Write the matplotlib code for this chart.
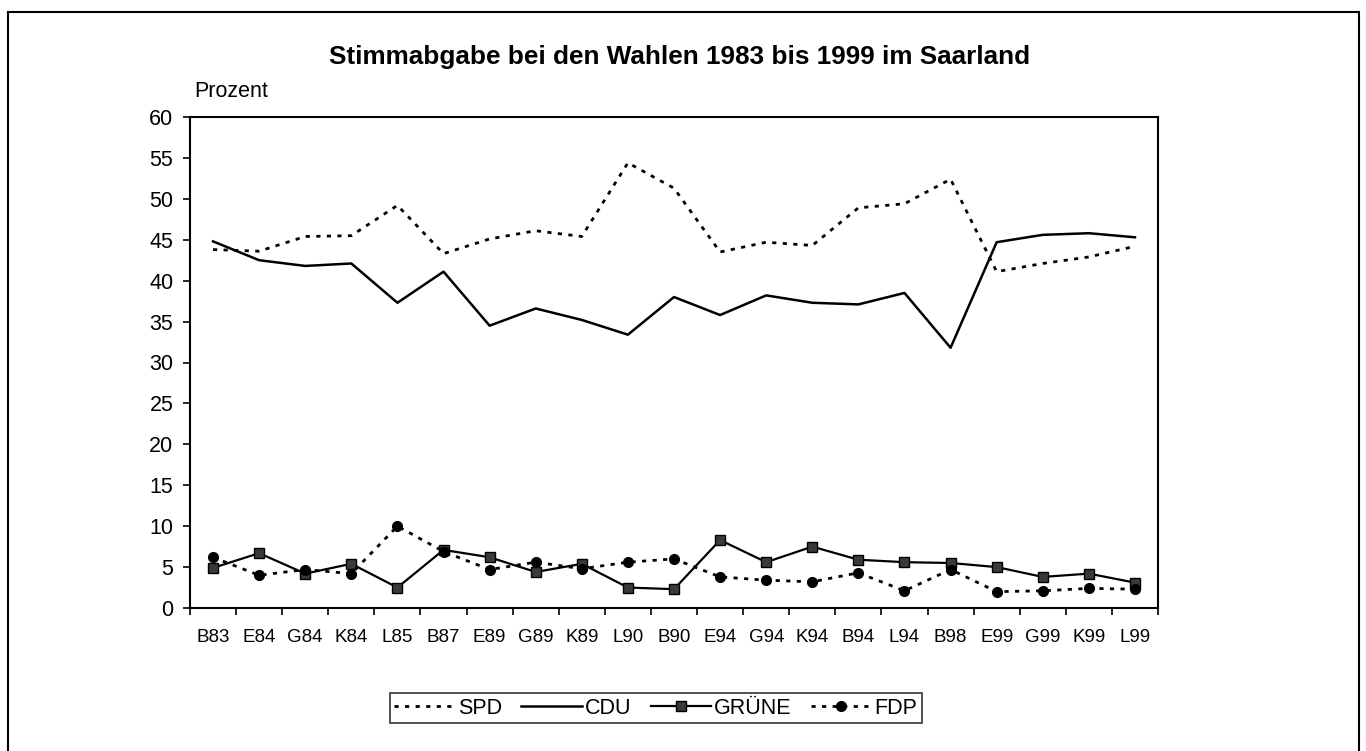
import matplotlib
matplotlib.use("Agg")
import matplotlib.pyplot as plt
from matplotlib.patches import Rectangle
import numpy as np

plt.rcParams['font.family'] = ['Liberation Sans', 'DejaVu Sans']

categories = ["B83", "E84", "G84", "K84", "L85", "B87", "E89", "G89", "K89", "L90",
              "B90", "E94", "G94", "K94", "B94", "L94", "B98", "E99", "G99", "K99", "L99"]
spd = [43.8, 43.6, 45.4, 45.5, 49.2, 43.3, 45.1, 46.1, 45.4, 54.4,
       51.3, 43.5, 44.7, 44.3, 48.9, 49.4, 52.4, 41.1, 42.1, 42.9, 44.2]
cdu = [44.8, 42.5, 41.8, 42.1, 37.3, 41.1, 34.5, 36.6, 35.2, 33.4,
       38.0, 35.8, 38.2, 37.3, 37.1, 38.5, 31.8, 44.7, 45.6, 45.8, 45.3]
gruene = [4.9, 6.7, 4.2, 5.4, 2.5, 7.1, 6.2, 4.4, 5.4, 2.5,
          2.3, 8.3, 5.6, 7.5, 5.9, 5.6, 5.5, 5.0, 3.8, 4.2, 3.1]
fdp = [6.2, 4.0, 4.7, 4.2, 10.0, 6.9, 4.7, 5.6, 4.8, 5.6,
       6.0, 3.8, 3.4, 3.2, 4.3, 2.1, 4.7, 2.0, 2.1, 2.4, 2.3]
series_names = ["SPD", "CDU", "GRÜNE", "FDP"]
y_ticks = list(range(0, 61, 5))

W, H = 1366, 751
fig = plt.figure(figsize=(W / 100, H / 100), dpi=100)
fig.patch.set_facecolor("white")

L, R, T, B = 190, 1158, 117, 608
ax = fig.add_axes([L / W, 1 - B / H, (R - L) / W, (B - T) / H])

dotted = (0, (1.5, 2.3))
x = np.arange(len(categories))
ax.plot(x, spd, color="black", lw=2.0, linestyle=dotted, label=series_names[0])
ax.plot(x, cdu, color="black", lw=1.8, linestyle="-", label=series_names[1])
ax.plot(x, gruene, color="black", lw=1.6, linestyle="-", marker="s", markersize=7.5,
        markerfacecolor="#3a3a3a", markeredgecolor="black", markeredgewidth=1.0,
        label=series_names[2])
ax.plot(x, fdp, color="black", lw=2.0, linestyle=dotted, marker="o", markersize=7,
        markerfacecolor="black", markeredgecolor="black", label=series_names[3])

ax.set_xlim(-0.5, len(categories) - 0.5)
ax.set_ylim(0, 60)
ax.set_yticks(y_ticks)
ax.set_yticklabels([str(v) for v in y_ticks])
ax.set_xticks(x)
ax.set_xticklabels(categories)
ax.set_xticks(np.arange(-0.5, len(categories), 1.0), minor=True)
ax.tick_params(axis="x", which="major", length=0, pad=15, labelsize=13.5)
ax.tick_params(axis="x", which="minor", length=5, width=1.2, direction="out")
ax.tick_params(axis="y", which="major", length=5, width=1.2, direction="out", pad=7, labelsize=15.5)
for s in ax.spines.values():
    s.set_linewidth(1.5)
    s.set_color("black")

fig.text(680 / W, 1 - 57 / H, "Stimmabgabe bei den Wahlen 1983 bis 1999 im Saarland",
         ha="center", va="center", fontsize=18.8, fontweight="bold")
fig.text(194 / W, 1 - 97 / H, "Prozent", ha="left", va="baseline", fontsize=15.5)

leg = fig.legend(loc="center", bbox_to_anchor=(656 / W, 1 - 708 / H), ncol=4,
                 frameon=True, fancybox=False, edgecolor="black", fontsize=15.5,
                 handlelength=2.8, handletextpad=0.15, columnspacing=0.9,
                 borderpad=0.2, borderaxespad=0)
leg.get_frame().set_linewidth(1.2)

fig.add_artist(Rectangle((8 / W, -0.05), (1359 - 8) / W, 1.05 - 12 / H,
                         transform=fig.transFigure, fill=False, edgecolor="black",
                         lw=1.5))

fig.savefig("out.png", dpi=100, facecolor="white")
